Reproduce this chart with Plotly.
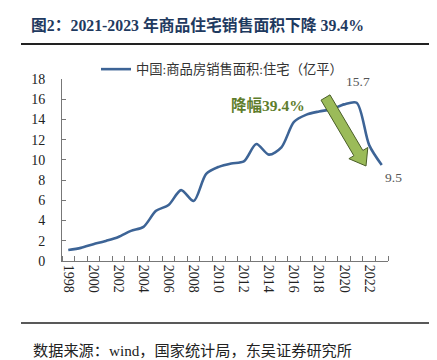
import plotly.graph_objects as go
import numpy as np

years = list(range(1998, 2024))
area = [1.08, 1.30, 1.66, 1.99, 2.38, 2.98, 3.38, 4.96, 5.54, 7.01, 5.93, 8.62, 9.31,
        9.65, 9.85, 11.57, 10.52, 11.24, 13.75, 14.48, 14.79, 15.01, 15.49, 15.65, 11.46, 9.49]
series_name = "中国:商品房销售面积:住宅（亿平）"
title_text = "图2：2021-2023 年商品住宅销售面积下降 39.4%"
source_text = "数据来源：wind，国家统计局，东吴证券研究所"
drop_text = "降幅39.4%"
tick_years = list(range(1998, 2024, 2))

W, H = 437, 360
L, R, T, B = 54, 57, 71, 107
pw, ph = W - L - R, H - T - B
XMIN, XMAX = 1997.5, 2023.5
YMIN, YMAX = 0, 18

def px_to_data(X, Y):
    return (XMIN + (X - L) / pw * (XMAX - XMIN), YMIN + (H - B - Y) / ph * (YMAX - YMIN))

def px_to_paper(X, Y):
    return ((X - L) / pw, (H - B - Y) / ph)

SERIF = "Liberation Serif, Noto Sans CJK SC"
fig = go.Figure()
fig.add_trace(go.Scatter(x=years, y=area, mode="lines", name=series_name,
                         line=dict(color="#3d6496", width=2.6, shape="spline", smoothing=0.8)))
# helper (invisible) so the inside-tick overlay axis is drawn
fig.add_trace(go.Scatter(x=years[:1], y=area[:1], yaxis="y2", mode="markers",
                         marker=dict(opacity=0), showlegend=False, hoverinfo="skip"))

# arrow (pixel geometry -> data)
tail = np.array([317.5, 89.5]); tip = np.array([358.0, 158.0])
d = tip - tail; u = d / np.linalg.norm(d); n = np.array([u[1], -u[0]])
bw, hw, hl = 5.2, 11, 15
neck = tip - hl * u
pts = [tail + bw * n, neck + bw * n, neck + hw * n, tip, neck - hw * n, neck - bw * n, tail - bw * n]
pts = [px_to_data(*p) for p in pts]
path = "M " + " L ".join(f"{x:.4f},{y:.4f}" for x, y in pts) + " Z"
fig.add_shape(type="path", path=path, xref="x", yref="y",
              fillcolor="#9bbb59", line=dict(color="#4a5e28", width=1))

# rules
x0, y0 = px_to_paper(13, 36); x1, _ = px_to_paper(421, 36)
fig.add_shape(type="line", xref="paper", yref="paper", x0=x0, x1=x1, y0=y0, y1=y0,
              line=dict(color="#222222", width=2))
_, yb = px_to_paper(0, 315)
fig.add_shape(type="line", xref="paper", yref="paper", x0=x0, x1=x1, y0=yb, y1=yb,
              line=dict(color="#222222", width=1.5))

sx, sy = px_to_paper(23, 342)
fig.add_annotation(text=source_text, xref="paper", yref="paper", x=sx, y=sy,
                   xanchor="left", yanchor="middle", showarrow=False,
                   font=dict(family=SERIF, size=15.2, color="#222222"))

dx, dy = px_to_data(260, 97)
fig.add_annotation(text=f"<b>{drop_text}</b>", x=dx, y=dy, xref="x", yref="y", showarrow=False,
                   font=dict(family=SERIF, size=15.5, color="#5e7d2c"))

fig.add_annotation(text=f"{max(area):.1f}", x=years[area.index(max(area))], y=max(area),
                   xref="x", yref="y", showarrow=False, xshift=1, yshift=21,
                   font=dict(family=SERIF, size=13.5, color="#555555"))
fig.add_annotation(text=f"{area[-1]:.1f}", x=years[-1], y=area[-1],
                   xref="x", yref="y", showarrow=False, xshift=12, yshift=-12,
                   font=dict(family=SERIF, size=13.5, color="#555555"))

lx, ly = px_to_paper(88, 46)
fig.update_layout(
    width=W, height=H, margin=dict(l=L, r=R, t=T, b=B),
    paper_bgcolor="white", plot_bgcolor="white",
    title=dict(text=f"<b>{title_text}</b>", x=23 / W, xanchor="left", y=1 - 17 / H, yanchor="middle",
               font=dict(family=SERIF, size=15.8, color="#1f3a60")),
    showlegend=True,
    legend=dict(x=lx, y=ly, xanchor="left", yanchor="top", bgcolor="rgba(0,0,0,0)",
                font=dict(family=SERIF, size=13.3, color="#333333"), itemwidth=30),
    xaxis=dict(range=[XMIN, XMAX], tickmode="array", tickvals=tick_years,
               ticktext=[str(y) for y in tick_years], tickangle=90, ticks="",
               showline=True, linecolor="#777777", linewidth=1, showgrid=False, zeroline=False,
               tickfont=dict(family=SERIF, size=14, color="#222222"),
               minor=dict(tick0=XMIN, dtick=1, ticks="inside", ticklen=5, tickcolor="#777777", showgrid=False)),
    yaxis=dict(range=[YMIN, YMAX], dtick=2, ticks="outside", ticklen=13, tickcolor="rgba(0,0,0,0)",
               showline=True, linecolor="#777777", linewidth=1, showgrid=False, zeroline=False,
               tickfont=dict(family=SERIF, size=14, color="#222222")),
    yaxis2=dict(range=[YMIN, YMAX], dtick=2, overlaying="y", side="left", ticks="inside", ticklen=4,
                tickcolor="#777777", showticklabels=False, showline=False, showgrid=False, zeroline=False),
)
fig.write_html("out.html")
